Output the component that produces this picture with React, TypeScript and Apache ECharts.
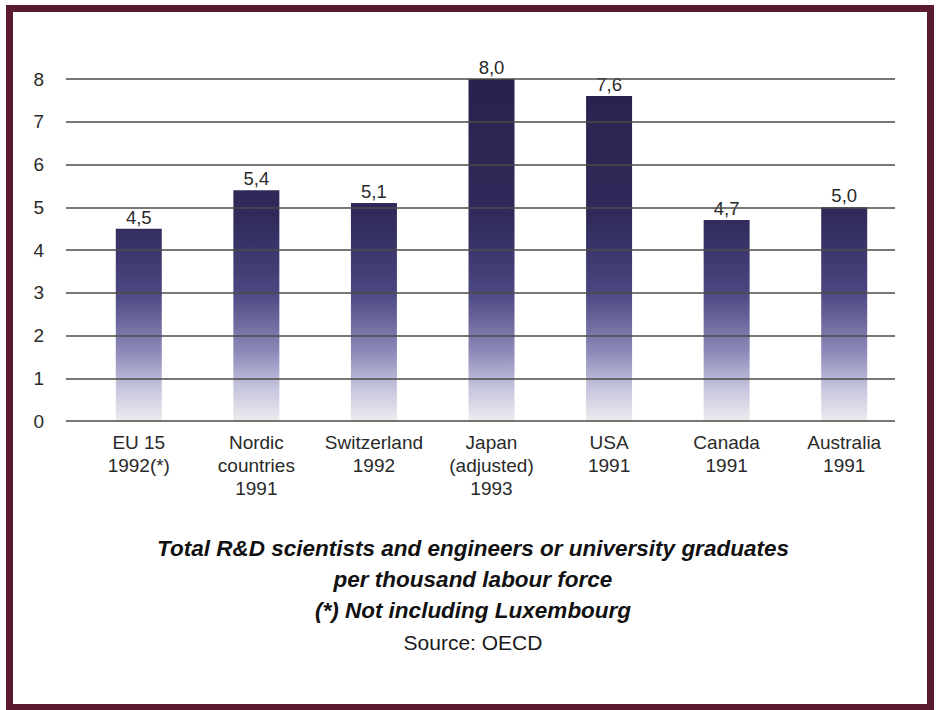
import React, { useEffect, useRef } from "react";
import * as echarts from "echarts";

// Categories and values (per thousand labour force)
const categories = [
  "EU 15\n1992(*)",
  "Nordic\ncountries\n1991",
  "Switzerland\n1992",
  "Japan\n(adjusted)\n1993",
  "USA\n1991",
  "Canada\n1991",
  "Australia\n1991",
];
const values = [4.5, 5.4, 5.1, 8.0, 7.6, 4.7, 5.0];
const yTicks = [0, 1, 2, 3, 4, 5, 6, 7, 8];

const captionLines = [
  "Total R&D scientists and engineers or university graduates",
  "per thousand labour force",
  "(*) Not including Luxembourg",
];
const sourceLine = "Source: OECD";

const FONT = "'Liberation Sans', Arial, Helvetica, sans-serif";

export default function App() {
  const ref = useRef<HTMLDivElement>(null);

  useEffect(() => {
    document.body.style.margin = "0";
    if (!ref.current) return;
    const chart = echarts.init(ref.current, null, { renderer: "svg" });

    const plotTop = 79;
    const plotBottomPx = 421;

    // Shading shared by every bar, fixed in page space
    const barFill = new echarts.graphic.LinearGradient(
      0,
      plotTop,
      0,
      plotBottomPx,
      [
        { offset: 0, color: "#27224c" },
        { offset: 0.4, color: "#2f2a5a" },
        { offset: 0.62, color: "#4a4680" },
        { offset: 0.8, color: "#8e8bbb" },
        { offset: 0.9, color: "#c4c3dc" },
        { offset: 1, color: "#ececef" },
      ],
      true
    );

    const yMax = yTicks[yTicks.length - 1];

    chart.setOption({
      animation: false,
      backgroundColor: "#ffffff",
      textStyle: { fontFamily: FONT },
      grid: [
        // gridlines and y labels
        { left: 66, right: 45, top: plotTop, bottom: 710 - plotBottomPx },
        // bars and category labels
        { left: 80, right: 37, top: plotTop, bottom: 710 - plotBottomPx },
      ],
      xAxis: [
        { type: "value", gridIndex: 0, show: false, min: 0, max: 1 },
        {
          type: "category",
          gridIndex: 1,
          data: categories,
          axisLine: { show: false },
          axisTick: { show: false },
          axisLabel: {
            interval: 0,
            margin: 10,
            fontSize: 19,
            lineHeight: 23,
            color: "#2a2a2a",
            fontFamily: FONT,
          },
        },
      ],
      yAxis: [
        {
          type: "value",
          gridIndex: 0,
          min: 0,
          max: yMax,
          interval: 1,
          z: 10,
          axisLine: { show: false },
          axisTick: { show: false },
          axisLabel: {
            margin: 22,
            fontSize: 19,
            color: "#2a2a2a",
            fontFamily: FONT,
          },
          splitLine: { lineStyle: { color: "#4b4b47", width: 1.5 } },
        },
        {
          type: "value",
          gridIndex: 1,
          min: 0,
          max: yMax,
          interval: 1,
          show: false,
          splitLine: { show: false },
        },
      ],
      series: [
        {
          type: "bar",
          xAxisIndex: 1,
          yAxisIndex: 1,
          data: values,
          barWidth: 46,
          itemStyle: { color: barFill },
          label: {
            show: true,
            position: "top",
            distance: 2,
            fontSize: 18.5,
            color: "#2a2a2a",
            fontFamily: FONT,
            formatter: (p: any) => Number(p.value).toFixed(1).replace(".", ","),
          },
        },
      ],
      graphic: [
        {
          type: "rect",
          shape: { x: 9.5, y: 8.5, width: 921, height: 699 },
          style: { fill: "none", stroke: "#5a1b31", lineWidth: 7 },
          z: 100,
        },
        ...captionLines.map((t, i) => ({
          type: "text",
          x: 473,
          y: 548 + i * 31,
          style: {
            text: t,
            fill: "#111111",
            font: `italic bold 22.5px ${FONT}`,
            textAlign: "center",
            textVerticalAlign: "middle",
          },
        })),
        {
          type: "text",
          x: 473,
          y: 642,
          style: {
            text: sourceLine,
            fill: "#1a1a1a",
            font: `21px ${FONT}`,
            textAlign: "center",
            textVerticalAlign: "middle",
          },
        },
      ],
    });

    return () => chart.dispose();
  }, []);

  return <div ref={ref} style={{ width: 940, height: 710 }} />;
}
